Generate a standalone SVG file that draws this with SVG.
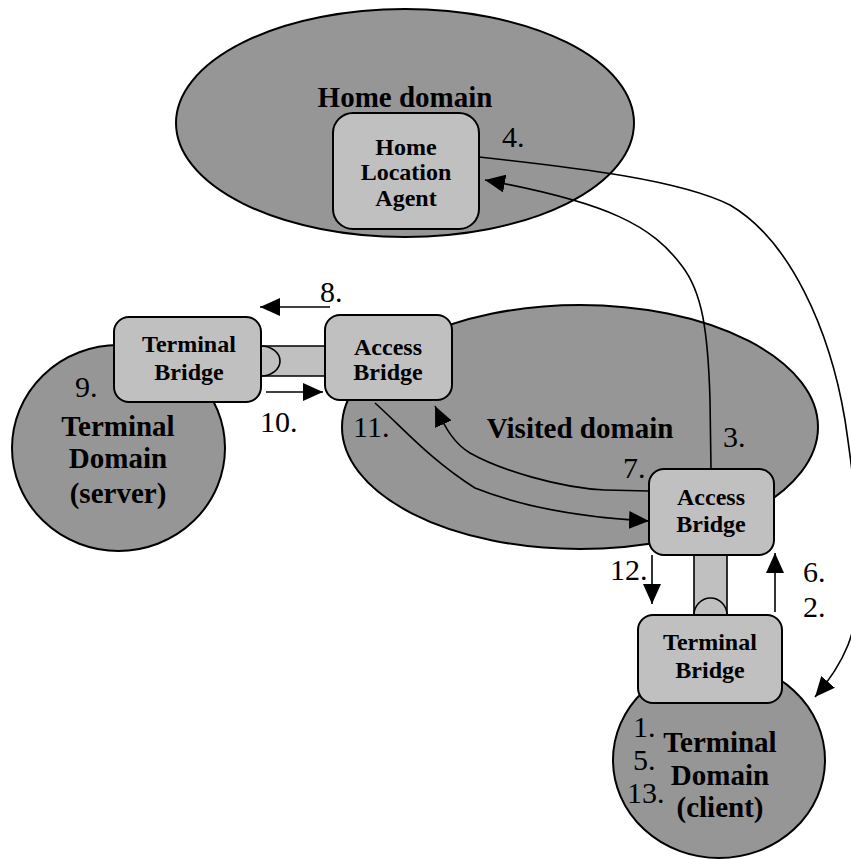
<svg xmlns="http://www.w3.org/2000/svg" width="851" height="859" viewBox="0 0 851 859">
<defs>
<style>
.dom{fill:#969696;stroke:#000;stroke-width:2}
.box{fill:#c0c0c0;stroke:#000;stroke-width:2}
.tube{fill:#c0c0c0;stroke:none}
.edge{fill:none;stroke:#000;stroke-width:1.6}
.big{font-family:"Liberation Serif","Times New Roman",serif;font-weight:bold;font-size:29px;text-anchor:middle;fill:#000}
.lbl{font-family:"Liberation Serif","Times New Roman",serif;font-weight:bold;font-size:24px;text-anchor:middle;fill:#000}
.num{font-family:"Liberation Serif","Times New Roman",serif;font-size:30px;fill:#000}
</style>
<marker id="ah" markerUnits="userSpaceOnUse" markerWidth="20" markerHeight="18" refX="20" refY="9" orient="auto">
<path d="M0,0 L20,9 L0,18 z" fill="#000"/>
</marker>
</defs>
<rect width="851" height="859" fill="#fff"/>

<g id="home-domain">
<ellipse class="dom" cx="405" cy="123" rx="229" ry="114"/>
<text class="big" x="405" y="107">Home domain</text>
</g>
<g id="home-location-agent">
<rect class="box" x="333" y="113" width="146" height="116" rx="20"/>
<text class="lbl" x="406" y="155">Home</text>
<text class="lbl" x="406" y="180">Location</text>
<text class="lbl" x="406" y="206">Agent</text>
</g>

<g id="terminal-domain-server">
<ellipse class="dom" cx="118.5" cy="448" rx="106.5" ry="103"/>
<text class="big" x="118" y="436">Terminal</text>
<text class="big" x="118" y="468">Domain</text>
<text class="big" x="118" y="503">(server)</text>
</g>

<g id="visited-domain">
<ellipse class="dom" cx="580" cy="427" rx="238" ry="122"/>
<text class="big" x="580" y="438">Visited domain</text>
</g>

<g id="terminal-domain-client">
<ellipse class="dom" cx="719" cy="760" rx="106" ry="98"/>
<text class="big" x="720" y="752">Terminal</text>
<text class="big" x="720" y="785">Domain</text>
<text class="big" x="720" y="817">(client)</text>
</g>

<g id="link-server">
<rect class="tube" x="261" y="346" width="64" height="30"/>
<line class="edge" x1="261" y1="346" x2="325" y2="346"/>
<line class="edge" x1="261" y1="376" x2="325" y2="376"/>
<path d="M261,346 A19,15 0 0 1 261,376" fill="#c0c0c0" stroke="#000" stroke-width="1.6"/>
</g>
<g id="link-client">
<rect class="tube" x="694" y="555" width="33" height="60"/>
<line class="edge" x1="694" y1="555" x2="694" y2="615"/>
<line class="edge" x1="727" y1="555" x2="727" y2="615"/>
<path d="M694,615 A16.5,17 0 0 1 727,615" fill="#c0c0c0" stroke="#000" stroke-width="1.6"/>
</g>

<g id="terminal-bridge-server">
<rect class="box" x="114" y="317" width="147" height="85" rx="15"/>
<text class="lbl" x="189" y="352">Terminal</text>
<text class="lbl" x="189" y="380">Bridge</text>
</g>
<g id="access-bridge-left">
<rect class="box" x="325" y="315" width="127" height="85" rx="15"/>
<text class="lbl" x="388" y="355">Access</text>
<text class="lbl" x="388" y="380">Bridge</text>
</g>
<g id="access-bridge-right">
<rect class="box" x="649" y="469" width="125" height="86" rx="15"/>
<text class="lbl" x="711" y="505">Access</text>
<text class="lbl" x="711" y="532">Bridge</text>
</g>
<g id="terminal-bridge-client">
<rect class="box" x="638" y="615" width="144" height="88" rx="15"/>
<text class="lbl" x="710" y="650">Terminal</text>
<text class="lbl" x="710" y="678">Bridge</text>
</g>

<g id="connectors">
<path class="edge" d="M711,469 L710,400 C708,330 702,292 682,266 C652,226 610,203 485,180" marker-end="url(#ah)"/>
<path class="edge" d="M479,157 C580,168 680,180 730,205 C790,240 830,330 845,420 C860,520 866,600 848,645 C840,665 828,682 815,697" marker-end="url(#ah)"/>
<path class="edge" d="M649,491 L605,490 C560,488 500,470 470,453 C455,444 446,430 435,406" marker-end="url(#ah)"/>
<path class="edge" d="M375,403 C400,425 430,460 475,488 C530,510 590,518 649,521" marker-end="url(#ah)"/>
<line class="edge" x1="330" y1="307" x2="260" y2="307" marker-end="url(#ah)"/>
<line class="edge" x1="266" y1="392" x2="323" y2="392" marker-end="url(#ah)"/>
<line class="edge" x1="652" y1="555" x2="652" y2="604" marker-end="url(#ah)"/>
<line class="edge" x1="775" y1="612" x2="775" y2="553" marker-end="url(#ah)"/>
</g>

<g id="step-labels">
<text class="num" x="502" y="147">4.</text>
<text class="num" x="320" y="302">8.</text>
<text class="num" x="75" y="397">9.</text>
<text class="num" x="260" y="432">10.</text>
<text class="num" x="353" y="437">11.</text>
<text class="num" x="723" y="447">3.</text>
<text class="num" x="623" y="478">7.</text>
<text class="num" x="610" y="580">12.</text>
<text class="num" x="803" y="582">6.</text>
<text class="num" x="803" y="617">2.</text>
<text class="num" x="633" y="737">1.</text>
<text class="num" x="633" y="770">5.</text>
<text class="num" x="627" y="803">13.</text>
</g>
</svg>
